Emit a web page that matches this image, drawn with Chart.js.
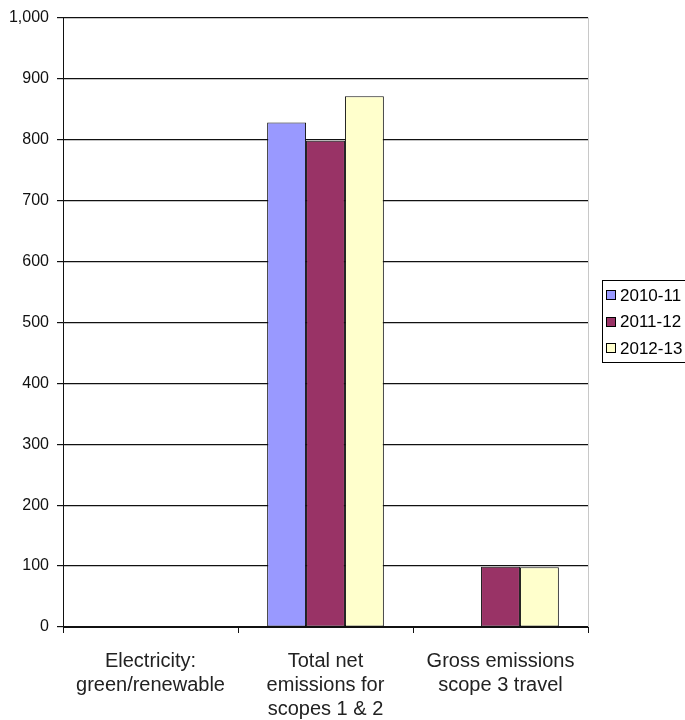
<!DOCTYPE html>
<html>
<head>
<meta charset="utf-8">
<script src="https://cdn.jsdelivr.net/npm/chart.js@4.4.1/dist/chart.umd.min.js"></script>
<style>
  html, body { margin: 0; padding: 0; background: #fff; }
  #wrap { width: 685px; height: 720px; position: relative; }
</style>
</head>
<body>
<div id="wrap"><canvas id="c" width="685" height="720"></canvas></div>
<script>
// Emissions by category and reporting year
const categories = [
  ['Electricity:', 'green/renewable'],
  ['Total net', 'emissions for', 'scopes 1 & 2'],
  ['Gross emissions', 'scope 3 travel']
];
const years = ['2010-11', '2011-12', '2012-13'];
const values2010 = [0, 828, 0];
const values2011 = [0, 798, 99];
const values2012 = [0, 871, 98];
const yTicks = [0, 100, 200, 300, 400, 500, 600, 700, 800, 900, 1000];

const fillColors = ['#9999FF', '#993366', '#FFFFCC'];
const FONT = '"Liberation Sans", Arial, sans-serif';

// Boxed legend at the right and a faint frame line on the plot's right edge
const boxedLegend = {
  id: 'boxedLegend',
  afterDraw(chart) {
    const ctx = chart.ctx;
    const area = chart.chartArea;
    ctx.save();
    ctx.strokeStyle = '#c8c8c8';
    ctx.lineWidth = 1;
    ctx.beginPath();
    ctx.moveTo(Math.round(area.right) + 0.5, area.top);
    ctx.lineTo(Math.round(area.right) + 0.5, area.bottom);
    ctx.stroke();

    const left = 602.5, top = 280.5, width = 100, height = 82;
    ctx.strokeStyle = '#000';
    ctx.strokeRect(left, top, width, height);
    ctx.font = '17px ' + FONT;
    ctx.textBaseline = 'middle';
    ctx.textAlign = 'left';
    chart.data.datasets.forEach((ds, i) => {
      const cy = 295 + i * 26.5;
      ctx.fillStyle = ds.backgroundColor;
      ctx.fillRect(606, Math.round(cy - 5), 10, 10);
      ctx.strokeStyle = '#000';
      ctx.strokeRect(606.5, Math.round(cy - 5) + 0.5, 9, 9);
      ctx.fillStyle = '#000';
      ctx.fillText(ds.label, 620, cy + 1);
    });
    ctx.restore();
  }
};

new Chart(document.getElementById('c'), {
  type: 'bar',
  data: {
    labels: categories,
    datasets: [
      { label: years[0], data: values2010, backgroundColor: fillColors[0] },
      { label: years[1], data: values2011, backgroundColor: fillColors[1] },
      { label: years[2], data: values2012, backgroundColor: fillColors[2] }
    ].map(d => Object.assign(d, {
      borderColor: '#111',
      // zero-height bars get no outline so the baseline stays thin
      borderWidth: c => (c.raw ? 1 : 0),
      borderSkipped: false,
      categoryPercentage: 0.667,
      barPercentage: 1.0
    }))
  },
  options: {
    responsive: false,
    animation: false,
    devicePixelRatio: 1,
    layout: { padding: { left: 0, right: 97, top: 17, bottom: 0 } },
    plugins: {
      legend: { display: false },
      tooltip: { enabled: false }
    },
    scales: {
      x: {
        grid: {
          offset: true,
          drawOnChartArea: false,
          drawTicks: true,
          tickLength: 6,
          color: '#111'
        },
        border: { display: true, color: '#111', width: 1 },
        ticks: {
          color: '#222',
          font: { family: FONT, size: 20, lineHeight: 1.2 },
          padding: 16,
          maxRotation: 0,
          autoSkip: false
        },
        afterFit(scale) { scale.height = 93; }
      },
      y: {
        min: 0,
        max: 1000,
        afterBuildTicks(scale) { scale.ticks = yTicks.map(v => ({ value: v })); },
        grid: {
          color: '#111',
          lineWidth: 1.2,
          drawTicks: true,
          tickLength: 6
        },
        border: { display: true, color: '#111', width: 1 },
        ticks: {
          color: '#111',
          font: { family: FONT, size: 16 },
          padding: 8,
          callback: v => v.toLocaleString('en-US')
        },
        afterFit(scale) { scale.width = 63; }
      }
    }
  },
  plugins: [boxedLegend]
});
</script>
</body>
</html>
